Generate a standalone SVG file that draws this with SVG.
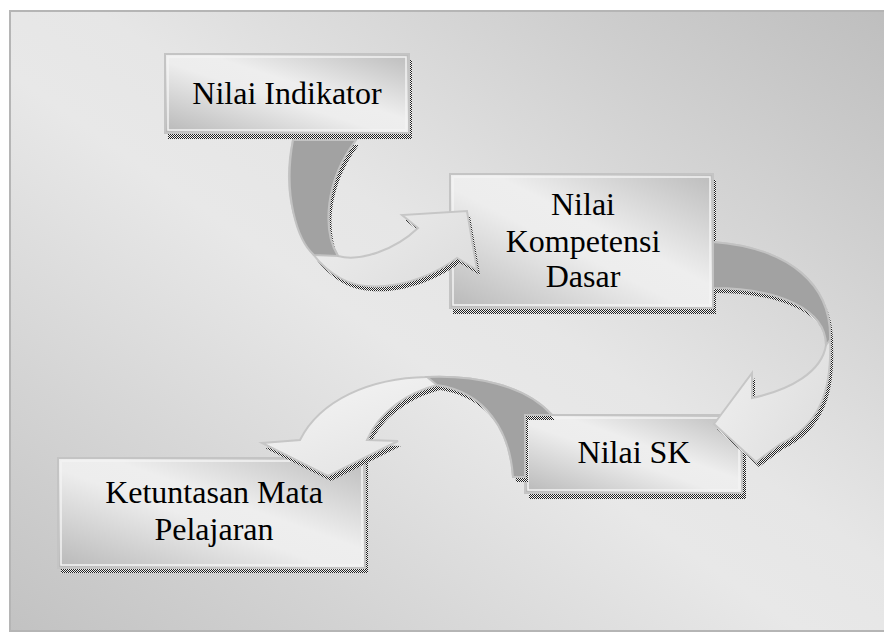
<svg xmlns="http://www.w3.org/2000/svg" width="884" height="632" viewBox="0 0 884 632">
<defs>
<linearGradient id="bg" x1="1" y1="0" x2="0" y2="1">
<stop offset="0" stop-color="#bebebe"/>
<stop offset="0.45" stop-color="#e6e6e6"/>
<stop offset="0.55" stop-color="#e8e8e8"/>
<stop offset="1" stop-color="#c2c2c2"/>
</linearGradient>
<linearGradient id="boxg" x1="0" y1="1" x2="1" y2="0">
<stop offset="0" stop-color="#b8b8b8"/>
<stop offset="0.45" stop-color="#ededed"/>
<stop offset="0.58" stop-color="#eeeeee"/>
<stop offset="1" stop-color="#bcbcbc"/>
</linearGradient>
<linearGradient id="lightg" x1="0" y1="0" x2="1" y2="1">
<stop offset="0" stop-color="#f6f6f6"/>
<stop offset="1" stop-color="#dcdcdc"/>
</linearGradient>
<pattern id="chk" width="2" height="2" patternUnits="userSpaceOnUse">
<rect width="2" height="2" fill="#f4f4f4"/>
<rect width="1" height="1" fill="#222"/>
<rect x="1" y="1" width="1" height="1" fill="#222"/>
</pattern>
<clipPath id="noSK">
<path clip-rule="evenodd" d="M0,0H884V632H0Z M525,415H746V499H525Z"/>
</clipPath>
<style>
.frame{fill:url(#bg);stroke:#b5b5b5;stroke-width:2}
.shadow{fill:url(#chk)}
.box{fill:url(#boxg);stroke:#c4c4c4;stroke-width:2}
.inner{fill:none;stroke:#f3f3f3;stroke-width:1.5}
.light{fill:url(#lightg);stroke:#c6c6c6;stroke-width:2;stroke-linejoin:miter}
.dark{fill:#a2a2a2;stroke:#c2c2c2;stroke-width:2}
text.lbl{font-family:'Liberation Serif','Tinos','Noto Serif','DejaVu Serif','FreeSerif','Nimbus Roman','Times New Roman',Times,serif;font-size:32px;fill:#000;text-anchor:middle}
</style>
</defs>

<rect class="frame" x="10" y="11" width="880" height="620"/>

<g id="node-ketuntasan">
<rect class="shadow" x="61" y="463" width="307" height="110"/>
<rect class="box" x="58" y="458" width="307" height="110"/>
<rect class="inner" x="61" y="461" width="301" height="104"/>
<text class="lbl" x="214" y="503">Ketuntasan Mata</text>
<text class="lbl" x="214" y="540">Pelajaran</text>
</g>

<g id="node-sk">
<rect class="shadow" x="529" y="421" width="217" height="78"/>
<rect class="box" x="525" y="415" width="217" height="78"/>
<rect class="inner" x="528" y="418" width="211" height="72"/>
<text class="lbl" x="634" y="463">Nilai SK</text>
</g>

<g id="node-kompetensi">
<rect class="shadow" x="453" y="180" width="263" height="134"/>
<rect class="box" x="450" y="174" width="263" height="134"/>
<rect class="inner" x="453" y="177" width="257" height="128"/>
<text class="lbl" x="583" y="215">Nilai</text>
<text class="lbl" x="583" y="252">Kompetensi</text>
<text class="lbl" x="583" y="287">Dasar</text>
</g>

<g id="node-indikator">
<rect class="shadow" x="168" y="60" width="244" height="79"/>
<rect class="box" x="165" y="54" width="244" height="79"/>
<rect class="inner" x="168" y="57" width="238" height="73"/>
<text class="lbl" x="287" y="104">Nilai Indikator</text>
</g>

<g id="connectors">
<g id="arrow-sk-ketuntasan">
<path class="shadow" clip-path="url(#noSK)" transform="translate(3,5)" d="M367,440 L398,441 L328,476 L262,443 L300,440 C320,400 370,378 427,377 C475,375 525,385 552,415 L525,415 L525,477 L513,477 C510,430 485,392 437,385 C410,392 380,410 367,440 Z"/>
<path class="light" d="M367,440 L398,441 L328,476 L262,443 L300,440 C320,400 370,378 427,377 C475,375 525,385 552,415 L525,415 L525,477 L513,477 C510,430 485,392 437,385 C410,392 380,410 367,440 Z"/>
<path class="dark" d="M427,377 C475,375 525,385 552,415 L525,415 L525,477 L513,477 C510,430 485,392 437,385 Z"/>
</g>
<g id="arrow-kompetensi-sk">
<path class="shadow" transform="translate(3,5)" d="M713,242 C790,248 832,285 830,340 C832,390 820,425 780,444 L756,462 L714,424 L752,373 L752,398 C790,390 822,372 826,345 C826,310 780,288 713,288 Z"/>
<path class="light" d="M713,242 C790,248 832,285 830,340 C832,390 820,425 780,444 L756,462 L714,424 L752,373 L752,398 C790,390 822,372 826,345 C826,310 780,288 713,288 Z"/>
<path class="dark" d="M713,242 C790,248 832,285 830,340 L826,345 C826,310 780,288 713,288 Z"/>
</g>
<g id="arrow-indikator-kompetensi">
<path class="shadow" transform="translate(3,5)" d="M293,140 C280,200 300,255 340,278 C370,295 420,285 457,258 L477,270 L467,211 L402,215 L418,228 C395,250 360,262 338,256 C322,230 325,180 356,140 Z"/>
<path class="light" d="M293,140 C280,200 300,255 340,278 C370,295 420,285 457,258 L477,270 L467,211 L402,215 L418,228 C395,250 360,262 338,256 C322,230 325,180 356,140 Z"/>
<path class="dark" d="M293,140 L356,140 C325,180 322,230 338,256 L314,255 C297,240 283,195 293,140 Z"/>
</g>
</g>
</svg>
